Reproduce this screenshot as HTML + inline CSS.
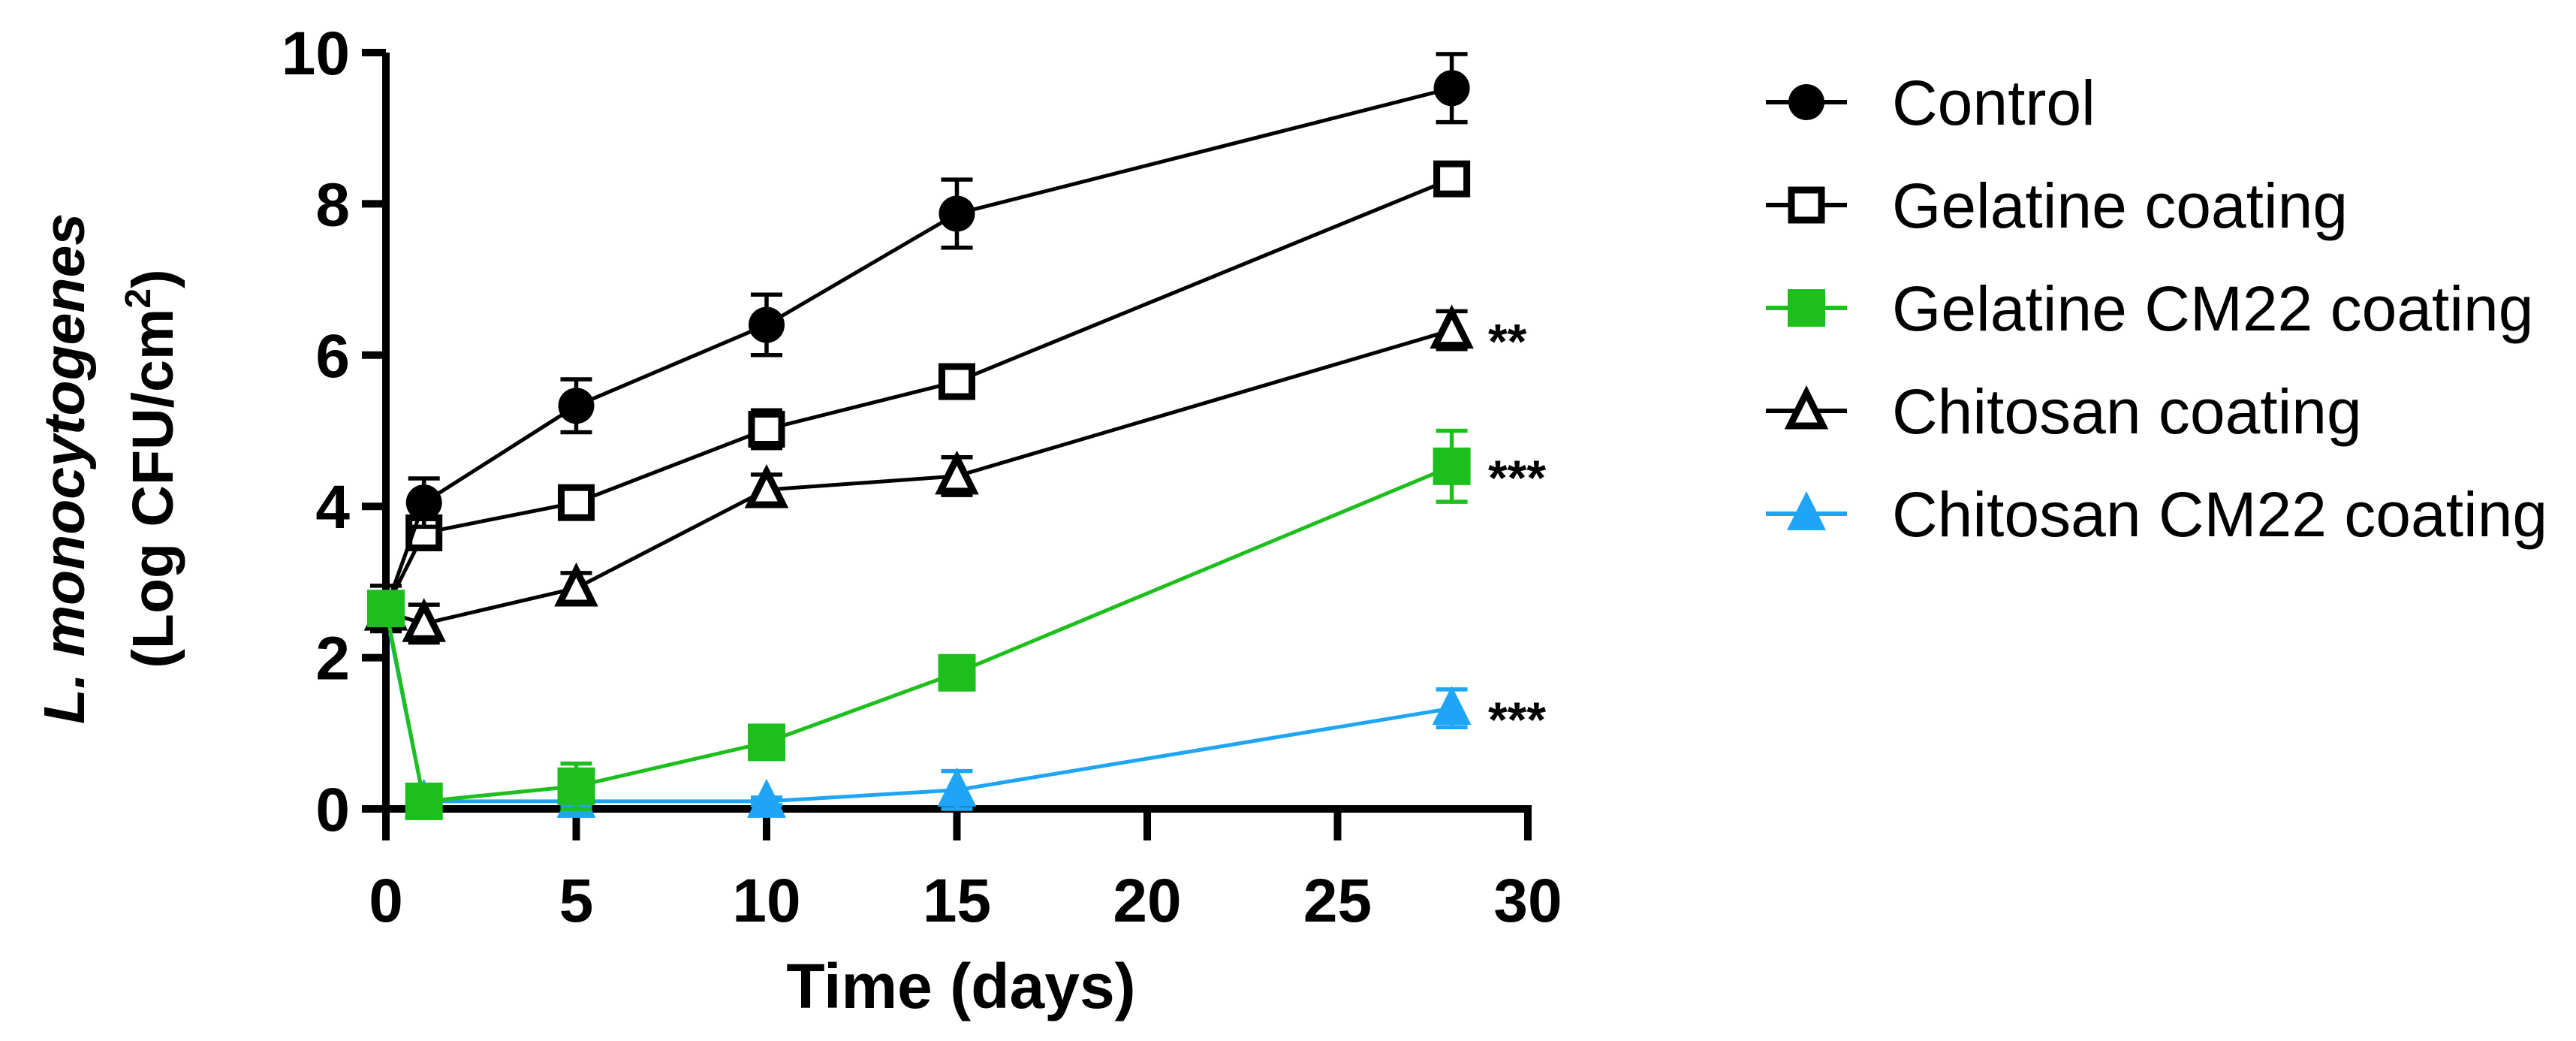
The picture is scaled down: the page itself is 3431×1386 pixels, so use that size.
<!DOCTYPE html>
<html><head><meta charset="utf-8"><style>
html,body{margin:0;padding:0;background:#fff;}
svg{display:block;font-family:"Liberation Sans",Arial,sans-serif;}
</style></head><body>
<svg id="chart" width="3431" height="1386" viewBox="0 0 3431 1386">
<g id="axes"></g>
<g id="series"></g>
<g id="legend"></g>
<text x="1280" y="1342" font-size="84" font-weight="bold" text-anchor="middle">Time (days)</text>
<g transform="translate(112,624) rotate(-90)">
<text x="0" y="0" font-size="77" font-weight="bold" font-style="italic" text-anchor="middle">L. monocytogenes</text>
<text x="0" y="118" font-size="77" font-weight="bold" text-anchor="middle">(Log CFU/cm<tspan font-size="48" dy="-30">2</tspan><tspan dy="30">)</tspan></text>
</g>
</svg>
<script>
const days = [0, 1, 5, 10, 15, 28];
const controlVals = [2.65, 4.05, 5.33, 6.4, 7.87, 9.53];
const controlErr = [0.3, 0.32, 0.35, 0.4, 0.45, 0.45];
const gelatineVals = [2.65, 3.65, 4.05, 5.02, 5.65, 8.33];
const gelatineErr = [0.2, 0.1, 0.1, 0.25, 0.15, 0.1];
const gelCM22Vals = [2.65, 0.1, 0.3, 0.88, 1.8, 4.53];
const gelCM22Err = [0.2, 0.05, 0.3, 0.1, 0.1, 0.47];
const chitosanVals = [2.6, 2.45, 2.92, 4.22, 4.4, 6.33];
const chitosanErr = [0.25, 0.25, 0.2, 0.2, 0.25, 0.25];
const chitCM22Vals = [2.6, 0.1, 0.1, 0.1, 0.25, 1.33];
const chitCM22Err = [0.1, 0.05, 0.05, 0.05, 0.25, 0.25];
const xTicks = [0, 5, 10, 15, 20, 25, 30];
const yTicks = [0, 2, 4, 6, 8, 10];
const legendLabels = ["Control", "Gelatine coating", "Gelatine CM22 coating", "Chitosan coating", "Chitosan CM22 coating"];
const stars = [["**", 6.33], ["***", 4.53], ["***", 1.33]];

const NS = "http://www.w3.org/2000/svg";
const X0 = 514, X1 = 2035, Y0 = 1077, Y1 = 70;
const xs = d => X0 + (d / 30) * (X1 - X0);
const ys = v => Y0 - (v / 10) * (Y0 - Y1);
function mk(tag, attrs, parent) {
  const e = document.createElementNS(NS, tag);
  for (const k in attrs) e.setAttribute(k, attrs[k]);
  parent.appendChild(e);
  return e;
}
const axes = document.getElementById('axes');
let e;
e = mk('line', {x1: X0, y1: Y1, x2: X0, y2: Y0 + 4, stroke: '#000', 'stroke-width': 10}, axes);


e = mk('line', {x1: X0 - 4, y1: Y0, x2: X1 + 5, y2: Y0, stroke: '#000', 'stroke-width': 10}, axes);


yTicks.forEach(t => {
  e = mk('line', {x1: X0 - 32, y1: ys(t), x2: X0, y2: ys(t), stroke: '#000', 'stroke-width': 10}, axes);
  
  
  e = mk('text', {x: X0 - 48, y: ys(t) + 29, 'font-size': 82, 'font-weight': 'bold', 'text-anchor': 'end'}, axes);
  e.textContent = t;
  
  
});
xTicks.forEach(t => {
  e = mk('line', {x1: xs(t), y1: Y0, x2: xs(t), y2: Y0 + 42, stroke: '#000', 'stroke-width': 10}, axes);
  
  
  e = mk('text', {x: xs(t), y: Y0 + 150, 'font-size': 82, 'font-weight': 'bold', 'text-anchor': 'middle'}, axes);
  e.textContent = t;
  
  
});

function marker(g, type, cx, cy, color, s) {
  if (type === 'circle') return mk('circle', {cx, cy, r: 24 * s, fill: color}, g);
  if (type === 'osquare') return mk('rect', {x: cx - 20 * s, y: cy - 20 * s, width: 40 * s, height: 40 * s, fill: '#fff', stroke: color, 'stroke-width': 9 * s}, g);
  if (type === 'square') return mk('rect', {x: cx - 25 * s, y: cy - 25 * s, width: 50 * s, height: 50 * s, fill: color}, g);
  if (type === 'otri') return mk('polygon', {points: `${cx},${cy - 24 * s} ${cx - 22 * s},${cy + 20 * s} ${cx + 22 * s},${cy + 20 * s}`, fill: '#fff', stroke: color, 'stroke-width': 9 * s, 'stroke-linejoin': 'miter'}, g);
  return mk('polygon', {points: `${cx},${cy - 30 * s} ${cx - 26 * s},${cy + 22 * s} ${cx + 26 * s},${cy + 22 * s}`, fill: color}, g);
}
const seriesDefs = [
  {name: 'chitosan-cm22', vals: chitCM22Vals, err: chitCM22Err, color: '#1ea5f5', m: 'tri'},
  {name: 'chitosan', vals: chitosanVals, err: chitosanErr, color: '#000', m: 'otri'},
  {name: 'gelatine', vals: gelatineVals, err: gelatineErr, color: '#000', m: 'osquare'},
  {name: 'control', vals: controlVals, err: controlErr, color: '#000', m: 'circle'},
  {name: 'gelatine-cm22', vals: gelCM22Vals, err: gelCM22Err, color: '#1dbf1d', m: 'square'}
];
const sg = document.getElementById('series');
seriesDefs.forEach(sd => {
  const g = mk('g', {}, sg);
  
  
  const pts = days.map((d, i) => xs(d) + ',' + ys(sd.vals[i])).join(' ');
  e = mk('polyline', {points: pts, fill: 'none', stroke: sd.color, 'stroke-width': 5}, g);
  
  
  days.forEach((d, i) => {
    const cx = xs(d), hi = ys(sd.vals[i] + sd.err[i]), lo = ys(Math.max(0, sd.vals[i] - sd.err[i]));
    e = mk('path', {d: `M${cx},${hi}V${lo}M${cx - 21},${hi}H${cx + 21}M${cx - 21},${lo}H${cx + 21}`, stroke: sd.color, 'stroke-width': 5.5, fill: 'none'}, g);
    
    
    e = marker(g, sd.m, cx, ys(sd.vals[i]), sd.color, 1);
    
    
  });
});
stars.forEach(s => {
  e = mk('text', {x: 1982, y: ys(s[1]) + 38, 'font-size': 66, 'font-weight': 'bold'}, sg);
  e.textContent = s[0];
  
  
});
const lg = document.getElementById('legend');
const legOrder = [seriesDefs[3], seriesDefs[2], seriesDefs[4], seriesDefs[1], seriesDefs[0]];
legendLabels.forEach((lab, i) => {
  const y = 136 + i * 137, sd = legOrder[i];
  const g = mk('g', {}, lg);
  
  
  e = mk('line', {x1: 2352, y1: y, x2: 2460, y2: y, stroke: sd.color, 'stroke-width': 6}, g);
  
  
  e = marker(g, sd.m, 2406, y, sd.color, 1);
  
  
  e = mk('text', {x: 2520, y: y + 30, 'font-size': 84}, g);
  e.textContent = lab;
  
  
});
</script>
</body></html>
